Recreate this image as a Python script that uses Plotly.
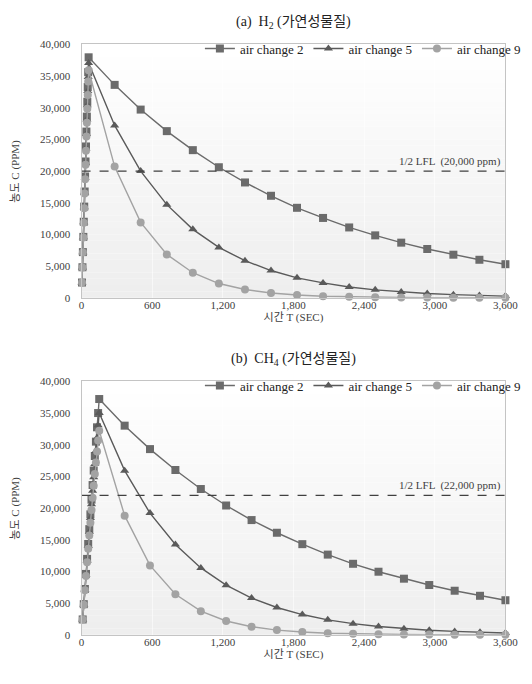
import plotly.graph_objects as go

# ---------------- data ----------------
H2_TIME = [3.75, 7.5, 11.25, 15, 18.75, 22.5, 26.25, 30, 33.75, 37.5, 41.25, 45, 48.75, 52.5, 56.25, 60,
           281, 502, 724, 945, 1166, 1388, 1609, 1830, 2051, 2273, 2494, 2715, 2936, 3158, 3379, 3600]
H2_AC2 = [2410, 4820, 7210, 9610, 12000, 14390, 16770, 19140, 21510, 23880, 26230, 28590, 30930, 33270, 35600, 37950,
          33600, 29700, 26300, 23300, 20600, 18200, 16100, 14200, 12600, 11100, 9850, 8700, 7700, 6800, 6000, 5300]
H2_AC5 = [2405, 4800, 7180, 9550, 11920, 14270, 16610, 18940, 21260, 23560, 25850, 28120, 30380, 32620, 34850, 37050,
          27200, 20000, 14700, 10800, 7950, 5850, 4300, 3150, 2350, 1700, 1250, 930, 680, 500, 370, 270]
H2_AC9 = [2400, 4780, 7150, 9500, 11830, 14150, 16440, 18720, 20980, 23220, 25440, 27640, 29830, 31990, 34140, 35900,
          20700, 11900, 6850, 3950, 2250, 1300, 750, 430, 250, 145, 85, 50, 30, 15, 10, 5]

CH4_TIME = [9.4, 18.8, 28.1, 37.5, 46.9, 56.3, 65.6, 75, 84.4, 93.8, 103.1, 112.5, 121.9, 131.3, 140.6, 150,
            366, 581, 797, 1013, 1228, 1444, 1659, 1875, 2091, 2306, 2522, 2738, 2953, 3169, 3384, 3600]
CH4_AC2 = [2420, 4830, 7220, 9600, 11970, 14330, 16670, 19000, 21320, 23630, 25920, 28210, 30480, 32740, 34990, 37200,
           33000, 29300, 26000, 23000, 20400, 18100, 16100, 14300, 12650, 11200, 9950, 8850, 7850, 6950, 6150, 5450]
CH4_AC5 = [2410, 4790, 7140, 9450, 11740, 14000, 16230, 18430, 20600, 22740, 24860, 26950, 29010, 31040, 33050, 35000,
           25900, 19200, 14250, 10550, 7830, 5800, 4300, 3190, 2360, 1750, 1300, 960, 710, 530, 390, 290]
CH4_AC9 = [2400, 4740, 7030, 9260, 11440, 13580, 15660, 17690, 19680, 21620, 23510, 25360, 27170, 28940, 30670, 32200,
           18800, 10950, 6400, 3730, 2170, 1270, 740, 430, 250, 150, 85, 50, 30, 17, 10, 6]

SERIES_NAMES = ["air change 2", "air change 5", "air change 9"]
LFL_HALF = [20000, 22000]
LFL_LABELS = ["1/2 LFL  (20,000 ppm)", "1/2 LFL  (22,000 ppm)"]
PANEL_TITLES = ["(a)  H<sub>2</sub> (가연성물질)", "(b)  CH<sub>4</sub> (가연성물질)"]
X_TICKS = [0, 600, 1200, 1800, 2400, 3000, 3600]
Y_TICKS = [0, 5000, 10000, 15000, 20000, 25000, 30000, 35000, 40000]
X_TITLE = "시간 T (SEC)"
Y_TITLE = "농도 C (PPM)"

# ---------------- style ----------------
FONT = "Liberation Serif, Noto Sans CJK KR, serif"
TXT = "#404040"
COLORS = ["#6b6b6b", "#5a5a5a", "#a3a3a3"]
SYMBOLS = ["square", "triangle-up", "circle"]
W, H = 532, 684
PLOT_L, PLOT_R = 81, 518
PANELS_PX = [(39, 297), (382, 640)]  # top, bottom pixel of each plot area

fig = go.Figure()

panels = [
    (H2_TIME, [H2_AC2, H2_AC5, H2_AC9]),
    (CH4_TIME, [CH4_AC2, CH4_AC5, CH4_AC9]),
]

for p, (tt, series) in enumerate(panels):
    xa = "x" if p == 0 else "x2"
    ya = "y" if p == 0 else "y2"
    leg = "legend" if p == 0 else "legend2"
    for name, vals, col, sym in zip(SERIES_NAMES, series, COLORS, SYMBOLS):
        fig.add_trace(go.Scatter(
            x=tt, y=vals, name=name, mode="lines+markers",
            line=dict(color=col, width=1.4),
            marker=dict(symbol=sym, size=8, color=col),
            xaxis=xa, yaxis=ya, legend=leg, cliponaxis=False,
        ))
    fig.add_trace(go.Scatter(
        x=[X_TICKS[0], X_TICKS[-1]], y=[LFL_HALF[p], LFL_HALF[p]], mode="lines",
        line=dict(color="#404040", width=1.3, dash="dash"),
        xaxis=xa, yaxis=ya, showlegend=False, hoverinfo="skip",
    ))
    fig.add_annotation(
        x=X_TICKS[-1], y=LFL_HALF[p], xref=xa, yref=ya, text=LFL_LABELS[p],
        showarrow=False, xanchor="right", yanchor="bottom", yshift=1, xshift=-2,
        font=dict(family=FONT, size=11, color=TXT),
    )


def ydom(top_px, bot_px):
    return [(H - bot_px) / H, (H - top_px) / H]


xdom = [PLOT_L / W, PLOT_R / W]
axis_common = dict(
    showline=True, linecolor="#c4c4c4", linewidth=1, mirror=True,
    ticks="", zeroline=False,
    tickfont=dict(family=FONT, size=11, color=TXT),
)
for p in range(2):
    sfx = "" if p == 0 else "2"
    fig.update_layout(**{
        "xaxis" + sfx: dict(
            domain=xdom, range=[0, 3600], tickvals=X_TICKS, tickformat=",",
            showgrid=True, gridcolor="rgba(255,255,255,0.55)", gridwidth=1,
            anchor="y" + sfx, ticklabelstandoff=-3,
            title=dict(text=X_TITLE, font=dict(family=FONT, size=11, color=TXT), standoff=0),
            **axis_common,
        ),
        "yaxis" + sfx: dict(
            domain=ydom(*PANELS_PX[p]), range=[0, 40000], tickvals=Y_TICKS, tickformat=",",
            showgrid=False, anchor="x" + sfx, ticklabelstandoff=8,
            **axis_common,
        ),
    })
    top_px, bot_px = PANELS_PX[p]
    fig.add_annotation(
        x=12 / W, y=(H - (top_px + bot_px) / 2) / H, xref="paper", yref="paper",
        text=Y_TITLE, textangle=-90, showarrow=False, xanchor="center", yanchor="middle",
        font=dict(family=FONT, size=11, color=TXT),
    )
    nb = 40
    for i in range(nb):
        f = i / (nb - 1)
        g = int(round(0xee + (0xff - 0xee) * f))
        fig.add_shape(
            type="rect", xref=("x" + sfx + " domain") if sfx else "x domain",
            yref=("y" + sfx + " domain") if sfx else "y domain",
            x0=0, x1=1, y0=i / nb, y1=(i + 1) / nb,
            fillcolor=f"rgb({g},{g},{g})", line=dict(width=0), layer="below",
        )
    fig.add_annotation(
        x=(PLOT_L + PLOT_R) / 2 / W, y=(H - (top_px - 22)) / H,
        xref="paper", yref="paper", text=PANEL_TITLES[p], showarrow=False,
        xanchor="center", yanchor="middle",
        font=dict(family=FONT, size=14, color="#222222"),
    )

legend_common = dict(
    orientation="h", xanchor="left", yanchor="top", bgcolor="rgba(0,0,0,0)",
    font=dict(family=FONT, size=13, color="#222222"), itemwidth=30,
    tracegroupgap=0,
)
fig.update_layout(
    width=W, height=H,
    margin=dict(l=0, r=0, t=0, b=0),
    paper_bgcolor="white", plot_bgcolor="white",
    showlegend=True,
    legend=dict(x=203 / W, y=(H - 28) / H, **legend_common),
    legend2=dict(x=203 / W, y=(H - 371) / H, **legend_common),
)

fig.write_html("out.html")
